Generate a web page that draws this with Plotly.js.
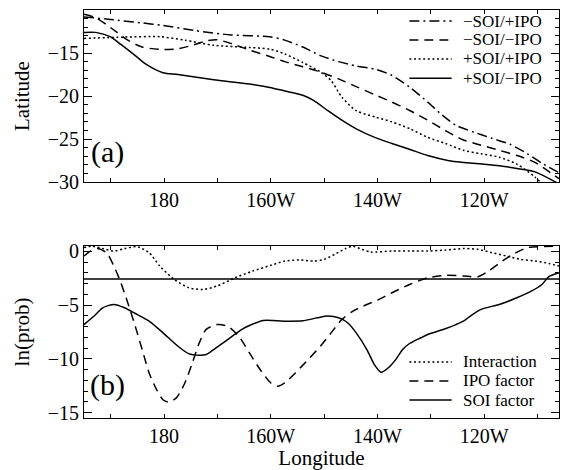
<!DOCTYPE html>
<html><head><meta charset="utf-8">
<script src="https://cdn.plot.ly/plotly-3.0.1.min.js"></script>
<style>
html,body{margin:0;padding:0;background:#fff}
#chart{width:561px;height:470px}
</style>
</head><body><div id="chart"></div>
<script>
// ---------- Panel (a): latitude of boundary vs longitude (degrees east) ----------
const lonNegSoiPosIpo = [165,169.9,175.9,179.8,185.9,192.6,199.8,202.6,206.0,209.3,212.7,216.0,219.7,222.7,226.1,229.4,232.1,234.7,238.1,241.4,244.8,248.1,250.8,254];
const latNegSoiPosIpo = [-10.8,-11.1,-11.5,-11.8,-12.4,-12.9,-13.1,-13.5,-14.3,-15.3,-16.0,-16.5,-16.9,-17.6,-19.0,-20.7,-22.2,-23.4,-24.2,-24.9,-25.6,-26.7,-27.8,-28.9];

const lonNegSoiNegIpo = [165,167.2,169.2,171.2,173.2,175.9,179.8,182.6,185.3,187.9,189.9,192.6,196.0,199.8,202.6,206.0,209.3,212.7,216.0,219.7,222.7,226.1,229.4,232.7,236.1,239.4,242.8,246.1,249.5,254];
const latNegSoiNegIpo = [-10.5,-10.9,-11.7,-12.6,-13.5,-14.3,-14.6,-14.5,-14.1,-13.6,-13.45,-13.9,-14.65,-15.4,-16.0,-16.6,-17.2,-18.0,-18.9,-19.9,-20.7,-21.7,-22.8,-24.0,-25.1,-25.7,-26.3,-26.9,-27.7,-29.6];

const lonPosSoiPosIpo = [165,172.6,179.2,183.9,189.3,196.0,199.8,202.6,206.0,209.3,211.3,213.3,216.0,219.7,222.7,226.1,229.4,232.7,236.1,239.4,242.8,246.1,249.5,251.5];
const latPosSoiPosIpo = [-13.3,-13.15,-13.1,-13.5,-14.1,-14.35,-14.55,-15.1,-16.1,-17.2,-18.2,-20.1,-21.7,-22.45,-23.0,-23.8,-24.8,-25.5,-26.3,-26.7,-27.1,-27.9,-29.4,-30.6];

const lonPosSoiNegIpo = [165,167.2,169.9,171.9,174.6,176.6,179.8,182.6,189.3,196.0,199.8,202.6,206.0,208.0,210.7,213.3,216.0,219.7,222.7,226.1,229.4,233.4,236.1,239.6,242.8,246.1,249.5,254];
const latPosSoiNegIpo = [-12.6,-12.6,-13.1,-14.0,-15.3,-16.3,-17.3,-17.5,-18.1,-18.6,-19.0,-19.4,-19.9,-20.5,-21.7,-22.8,-23.8,-24.85,-25.5,-26.2,-26.9,-27.5,-27.7,-27.9,-28.1,-28.4,-28.8,-30.2];

// ---------- Panel (b): ln(prob) vs longitude ----------
const lonInteraction = [165,166.5,168.5,170.6,172.6,174.9,177.2,179.2,181.9,184.6,187.3,189.9,193.3,196.6,200,202.6,205.3,208,210,212,214,215.4,216.7,218.7,222.7,226,229.4,232.7,236.1,238.8,241.4,244.1,246.8,249.5,252.1,254];
const lnpInteraction = [0.35,0.48,0.26,0.03,0.26,0.44,-0.12,-1.37,-2.61,-3.38,-3.54,-3.23,-2.46,-1.83,-1.30,-0.90,-0.80,-0.90,-0.74,-0.27,0.26,0.48,0.26,-0.06,0.03,0.03,0.03,0.12,0.26,0.19,-0.12,-0.43,-0.74,-0.90,-1.12,-1.37];

const lonIpoFactor = [165,166.2,167.5,169.2,170.6,171.9,173.2,174.6,175.9,177.2,178.6,179.8,180.9,182.3,183.9,185.3,186.6,187.9,189.9,191.9,194,196,198,200,201.3,202.6,204.6,207.3,209.3,211.3,213.3,215.4,218,220,222.7,226,229.4,232.7,236.1,238.8,240.8,243.4,245.4,248.1,250.8,254];
const lnpIpoFactor = [-0.43,0.03,0.26,-0.12,-1.37,-2.91,-4.78,-6.96,-9.13,-11.31,-12.86,-13.80,-14.01,-13.63,-12.24,-10.37,-8.51,-7.26,-6.81,-6.96,-7.89,-9.45,-10.99,-12.24,-12.55,-12.24,-11.31,-9.90,-8.82,-7.58,-6.34,-5.56,-4.94,-4.53,-3.85,-3.08,-2.46,-2.23,-2.29,-2.36,-1.83,-0.90,-0.27,0.35,0.44,0.48];

const lonSoiFactor = [165,167.2,168.5,170.6,172.6,174.6,177.2,179.8,182.6,184.6,186.6,187.9,189.3,191.9,194.6,196,198.6,202.6,206,208.7,210.7,212.7,214.4,216,218,219.4,220.7,222,223.4,224.7,226,228.1,229.4,232.7,234.7,236.1,237.4,239.4,242.8,246.1,248.8,250.8,252.1,254];
const lnpSoiFactor = [-6.81,-5.87,-5.25,-4.94,-5.25,-5.78,-6.49,-7.58,-8.82,-9.51,-9.66,-9.60,-9.13,-8.20,-7.26,-6.90,-6.43,-6.49,-6.46,-6.18,-6.02,-6.18,-6.64,-7.58,-9.13,-10.53,-11.25,-10.84,-10.07,-9.13,-8.57,-8.04,-7.73,-7.20,-6.81,-6.49,-6.02,-5.40,-4.94,-4.32,-3.70,-3.08,-2.36,-1.99];

const significanceLevel = -2.56;

// tick labels
const lonTickVals = [170,180,190,200,210,220,230,240,250];
const lonTickText = ['','180','','160W','','140W','','120W',''];
const latTickVals = [-30,-25,-20,-15,-10];
const latTickText = ['\u221230','\u221225','\u221220','\u221215','\u221210'];
const lnpTickVals = [-15,-10,-5,0];
const lnpTickText = ['\u221215','\u221210','\u22125','0'];

const legendTopNames = ['\u2212SOI/+IPO', '\u2212SOI/\u2212IPO', '+SOI/+IPO', '+SOI/\u2212IPO'];
const legendBottomNames = ['Interaction', 'IPO factor', 'SOI factor'];

// ---------- styling ----------
const FONT = 'Liberation Serif';
const BLACK = '#000';
const DOT = '2px,2.6px';
const DASH = '9px,6px';
const DASHDOT = '10px,4px,2px,4px';
const topStyles = [DASHDOT, DASH, DOT, 'solid'];
const bottomStyles = [DOT, DASH, 'solid'];

function ln(x, y, name, dash, xa, ya) {
  return {x, y, name, type: 'scatter', mode: 'lines', xaxis: xa, yaxis: ya, showlegend: false,
    line: {color: BLACK, width: 1.5, dash: dash, shape: 'spline', smoothing: 0.7},
    hoverinfo: 'skip'};
}

const traces = [
  ln(lonNegSoiPosIpo, latNegSoiPosIpo, legendTopNames[0], topStyles[0], 'x', 'y'),
  ln(lonNegSoiNegIpo, latNegSoiNegIpo, legendTopNames[1], topStyles[1], 'x', 'y'),
  ln(lonPosSoiPosIpo, latPosSoiPosIpo, legendTopNames[2], topStyles[2], 'x', 'y'),
  ln(lonPosSoiNegIpo, latPosSoiNegIpo, legendTopNames[3], topStyles[3], 'x', 'y'),
  ln(lonInteraction, lnpInteraction, legendBottomNames[0], bottomStyles[0], 'x2', 'y2'),
  ln(lonIpoFactor, lnpIpoFactor, legendBottomNames[1], bottomStyles[1], 'x2', 'y2'),
  ln(lonSoiFactor, lnpSoiFactor, legendBottomNames[2], bottomStyles[2], 'x2', 'y2')
];

function xAxis(anchor, title) {
  const a = {anchor: anchor, domain: [0, 1], range: [165, 254], tickmode: 'array',
    tickvals: lonTickVals, ticktext: lonTickText, ticks: 'inside', ticklen: 4, tickwidth: 1,
    tickcolor: BLACK, showline: true, linecolor: BLACK, linewidth: 1, mirror: 'ticks',
    showgrid: false, zeroline: false, tickfont: {family: FONT, size: 20, color: BLACK}};
  if (title) a.title = {text: title, font: {family: FONT, size: 21, color: BLACK}, standoff: 0};
  return a;
}
function yAxis(anchor, domain, range, vals, text, title) {
  return {anchor: anchor, domain: domain, range: range, tickmode: 'array', tickvals: vals, ticktext: text,
    ticks: 'inside', ticklen: 8, tickwidth: 1, tickcolor: BLACK,
    minor: {tickmode: 'linear', dtick: 1, tick0: 0, ticks: 'inside', ticklen: 4, tickwidth: 1, tickcolor: BLACK},
    showline: true, linecolor: BLACK, linewidth: 1, mirror: 'ticks', showgrid: false, zeroline: false,
    tickfont: {family: FONT, size: 20, color: BLACK},
    title: {text: title, font: {family: FONT, size: 21, color: BLACK}, standoff: 12}};
}

// hand-made legends (text + short line samples) so row spacing matches the figure
const shapes = [{type: 'line', xref: 'x2 domain', x0: 0, x1: 1, yref: 'y2', y0: significanceLevel, y1: significanceLevel,
  line: {color: BLACK, width: 1.5}}];
const annotations = [
  {text: '(a)', xref: 'paper', yref: 'paper', x: 0.05, y: 0.652, xanchor: 'center', yanchor: 'middle',
   showarrow: false, font: {family: FONT, size: 30, color: BLACK}},
  {text: '(b)', xref: 'paper', yref: 'paper', x: 0.05, y: 0.082, xanchor: 'center', yanchor: 'middle',
   showarrow: false, font: {family: FONT, size: 30, color: BLACK}}
];
function addLegend(names, styles, rowY) {
  names.forEach((nm, i) => {
    shapes.push({type: 'line', xref: 'paper', yref: 'paper', x0: 0.685, x1: 0.774, y0: rowY[i], y1: rowY[i],
      line: {color: BLACK, width: 1.5, dash: styles[i]}});
    annotations.push({text: nm, xref: 'paper', yref: 'paper', x: 0.795, y: rowY[i], xanchor: 'left', yanchor: 'middle',
      showarrow: false, font: {family: FONT, size: 17, color: BLACK}, borderpad: 0});
  });
}
addLegend(legendTopNames, topStyles, [0.973, 0.9265, 0.880, 0.833]);
addLegend(legendBottomNames, bottomStyles, [0.1373, 0.0907, 0.0441]);

const layout = {
  width: 561, height: 470,
  margin: {l: 84, r: 2, t: 10, b: 52},
  paper_bgcolor: '#fff', plot_bgcolor: '#fff',
  font: {family: FONT, size: 17, color: BLACK},
  showlegend: false,
  xaxis: xAxis('y', null),
  yaxis: yAxis('x', [0.578, 1], [-30, -10], latTickVals, latTickText, 'Latitude'),
  xaxis2: xAxis('y2', 'Longitude'),
  yaxis2: yAxis('x2', [0, 0.4216], [-15.5, 0.5], lnpTickVals, lnpTickText, 'ln(prob)'),
  shapes: shapes,
  annotations: annotations
};

Plotly.newPlot('chart', traces, layout, {displayModeBar: false});
</script></body></html>
